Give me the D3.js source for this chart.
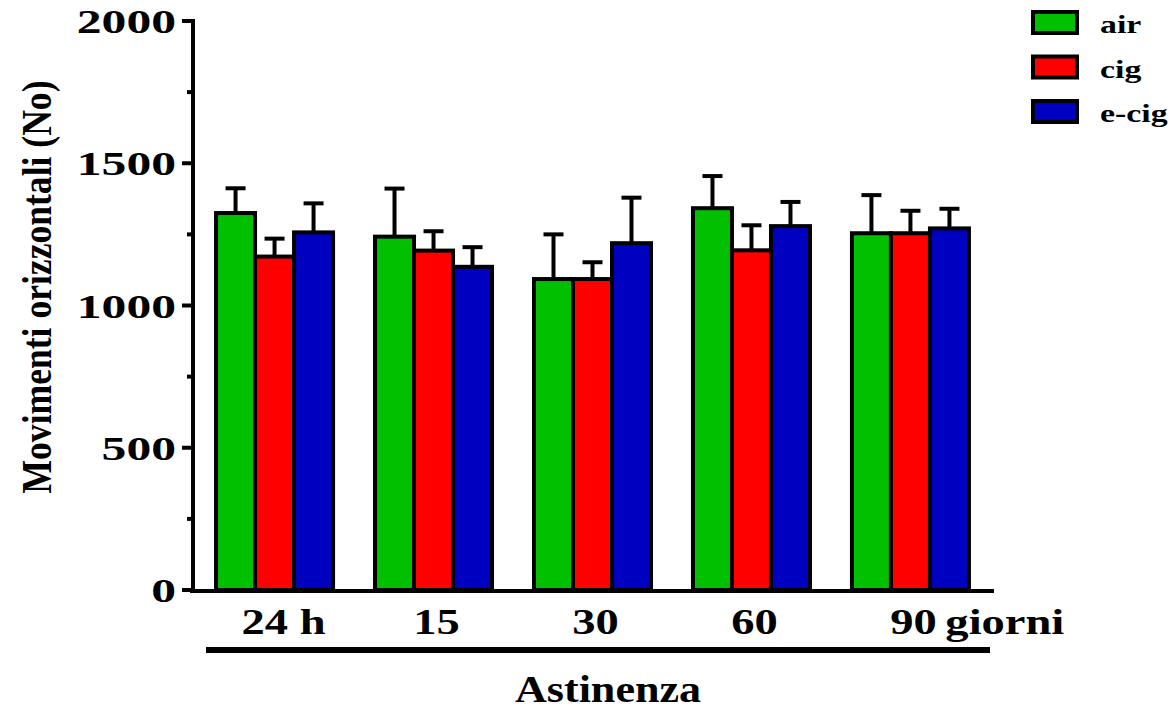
<!DOCTYPE html>
<html>
<head>
<meta charset="utf-8">
<script src="https://cdn.jsdelivr.net/npm/d3@7"></script>
<style>
  html, body { margin: 0; padding: 0; background: #fff; }
  svg { display: block; }
  text { font-family: "Liberation Serif", "Times New Roman", serif; font-weight: bold; fill: #000; }
</style>
</head>
<body>
<svg id="chart" width="1175" height="709"></svg>
<script>
// Abstinence time points and the three exposure groups
const categories = ["24 h", "15", "30", "60", "90"];
const unitLabel = "giorni";
const seriesNames = ["air", "cig", "e-cig"];
const seriesColors = ["#00c000", "#ff0000", "#0000c0"];

// Mean horizontal movements per group, and the SEM drawn above each bar
const airMean  = [1325, 1242, 1093, 1342, 1254];
const airSem   = [87, 169, 157, 113, 134];
const cigMean  = [1172, 1193, 1093, 1194, 1254];
const cigSem   = [63, 68, 59, 88, 79];
const ecigMean = [1257, 1136, 1219, 1279, 1271];
const ecigSem  = [102, 69, 160, 85, 69];

const yTicks = [0, 500, 1000, 1500, 2000];
const yMinorTicks = [250, 750, 1250, 1750];

const means = [airMean, cigMean, ecigMean];
const sems = [airSem, cigSem, ecigSem];

const svg = d3.select("#chart");

const x = d3.scaleBand()
  .domain(categories)
  .range([193, 992])
  .paddingInner(0.264)
  .paddingOuter(0.145);

const xs = d3.scaleBand()
  .domain(seriesNames)
  .range([0, x.bandwidth()]);

const y = d3.scaleLinear().domain([0, 2000]).range([590, 21]);

// Bars
const groups = svg.append("g").selectAll("g")
  .data(categories)
  .join("g")
  .attr("transform", d => `translate(${x(d)},0)`);

const cells = groups.selectAll("g.cell")
  .data((d, ci) => seriesNames.map((s, si) => ({ s, si, v: means[si][ci], e: sems[si][ci] })))
  .join("g").attr("class", "cell");

// Error bars (upper half only), drawn behind the bars
cells.append("line")
  .attr("x1", d => xs(d.s) + xs.bandwidth() / 2)
  .attr("x2", d => xs(d.s) + xs.bandwidth() / 2)
  .attr("y1", d => y(d.v))
  .attr("y2", d => y(d.v + d.e))
  .attr("stroke", "#000").attr("stroke-width", 4);
cells.append("line")
  .attr("x1", d => xs(d.s) + xs.bandwidth() / 2 - 10)
  .attr("x2", d => xs(d.s) + xs.bandwidth() / 2 + 10)
  .attr("y1", d => y(d.v + d.e))
  .attr("y2", d => y(d.v + d.e))
  .attr("stroke", "#000").attr("stroke-width", 4);

cells.append("rect")
  .attr("x", d => xs(d.s))
  .attr("width", xs.bandwidth())
  .attr("y", d => y(d.v))
  .attr("height", d => y(0) - y(d.v))
  .attr("fill", d => seriesColors[d.si])
  .attr("stroke", "#000")
  .attr("stroke-width", 4);

// Y axis
const yAxis = svg.append("g");
yAxis.append("line")
  .attr("x1", 193).attr("x2", 193)
  .attr("y1", y(2000) - 2).attr("y2", y(0) + 3)
  .attr("stroke", "#000").attr("stroke-width", 4);
yAxis.selectAll("line.major").data(yTicks).join("line")
  .attr("class", "major")
  .attr("x1", 182).attr("x2", 193)
  .attr("y1", d => y(d)).attr("y2", d => y(d))
  .attr("stroke", "#000").attr("stroke-width", 4);
yAxis.selectAll("line.minor").data(yMinorTicks).join("line")
  .attr("class", "minor")
  .attr("x1", 187).attr("x2", 193)
  .attr("y1", d => y(d)).attr("y2", d => y(d))
  .attr("stroke", "#000").attr("stroke-width", 4);
yAxis.selectAll("g.lab").data(yTicks).join("g")
  .attr("class", "lab")
  .attr("transform", d => `translate(176,${y(d) + 12}) scale(1.46,1)`)
  .append("text")
  .attr("text-anchor", "end")
  .attr("font-size", 34)
  .text(d => d3.format("d")(d));

// X axis baseline
svg.append("line")
  .attr("x1", 190).attr("x2", 994)
  .attr("y1", y(0) + 1).attr("y2", y(0) + 1)
  .attr("stroke", "#000").attr("stroke-width", 4);

// Category labels
const xl = svg.append("g").selectAll("g")
  .data(categories)
  .join("g")
  .attr("transform", (d, i) => `translate(${x(d) + x.bandwidth() / 2 + (i === 0 ? 9 : 3)},634) scale(1.33,1)`);
xl.append("text")
  .attr("text-anchor", "middle")
  .attr("font-size", 35)
  .text(d => d);
xl.filter((d, i) => i === categories.length - 1)
  .append("text")
  .attr("x", 24)
  .attr("font-size", 35)
  .text(" " + unitLabel);

// Bracket under the labels and the x title
svg.append("line")
  .attr("x1", 206).attr("x2", 990)
  .attr("y1", 650).attr("y2", 650)
  .attr("stroke", "#000").attr("stroke-width", 6);
svg.append("g")
  .attr("transform", "translate(608,702) scale(1.16,1)")
  .append("text")
  .attr("text-anchor", "middle")
  .attr("font-size", 38)
  .text("Astinenza");

// Y title
svg.append("text")
  .attr("transform", "translate(51,287) rotate(-90)")
  .attr("text-anchor", "middle")
  .attr("font-size", 42)
  .attr("textLength", 413)
  .attr("lengthAdjust", "spacingAndGlyphs")
  .text("Movimenti orizzontali (No)");

// Legend
const lg = svg.append("g").selectAll("g")
  .data(seriesNames)
  .join("g")
  .attr("transform", (d, i) => `translate(1033,${12 + i * 44.5})`);
lg.append("rect")
  .attr("width", 44).attr("height", 21)
  .attr("fill", (d, i) => seriesColors[i])
  .attr("stroke", "#000").attr("stroke-width", 4);
lg.append("g")
  .attr("transform", "translate(67,21) scale(1.3,1)")
  .append("text")
  .attr("font-size", 26)
  .text(d => d);
</script>
</body>
</html>
